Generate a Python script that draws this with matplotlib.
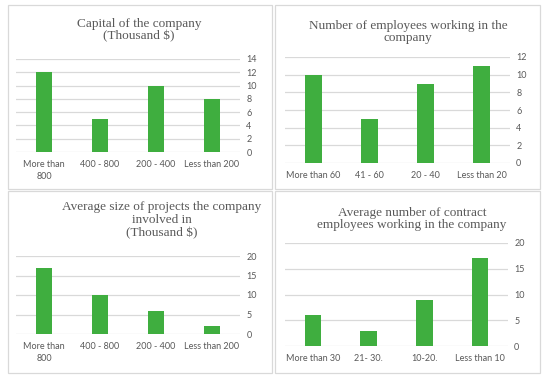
import matplotlib
matplotlib.use('Agg')
from matplotlib import pyplot as plt
from matplotlib.patches import Rectangle

# values
capital_cats = ['More than\n800', '400 - 800', '200 - 400', 'Less than 200']
capital_vals = [12, 5, 10, 8]

employee_cats = ['More than 60', '41 - 60', '20 - 40', 'Less than 20']
employee_vals = [10, 5, 9, 11]

project_cats = ['More than\n800', '400 - 800', '200 - 400', 'Less than 200']
project_vals = [17, 10, 6, 2]

contract_cats = ['More than 30', '21- 30.', '10-20.', 'Less than 10']
contract_vals = [6, 3, 9, 17]

W, H = 550, 382
BAR_COLOR = '#3fae3f'
GRID_COLOR = '#d9d9d9'
TEXT_COLOR = '#595959'
TITLE_COLOR = '#595959'


def px_axes(fig, x0, y0, x1, y1):
    # pixel box (top-left origin) -> figure fraction
    return fig.add_axes([x0 / W, 1 - y1 / H, (x1 - x0) / W, (y1 - y0) / H])


def draw_panel(fig, box, cats, vals, ymax, ystep, title, title_xy):
    ax = px_axes(fig, *box)
    x = list(range(len(cats)))
    ax.bar(x, vals, width=0.3, color=BAR_COLOR, zorder=3)
    ax.set_xlim(-0.5, len(cats) - 0.5)
    ax.set_ylim(0, ymax)
    ax.set_yticks(range(0, ymax + 1, ystep))
    ax.yaxis.tick_right()
    ax.grid(axis='y', color=GRID_COLOR, linewidth=0.9, zorder=0)
    ax.set_axisbelow(True)
    for s in ax.spines.values():
        s.set_visible(False)
    ax.tick_params(axis='both', length=0, colors=TEXT_COLOR, labelsize=6.5)
    ax.tick_params(axis='y', pad=4.5)
    ax.tick_params(axis='x', pad=6)
    ax.set_xticks(x)
    ax.set_xticklabels(cats, linespacing=1.35, multialignment='center')
    for lbl in ax.get_xticklabels() + ax.get_yticklabels():
        lbl.set_fontfamily('Lato')
    fig.text(title_xy[0] / W, 1 - title_xy[1] / H, title, ha='center',
             va='center', multialignment='center', fontsize=9.5,
             family='Liberation Serif', color=TITLE_COLOR, linespacing=1.08)
    return ax


fig = plt.figure(figsize=(W / 100, H / 100), dpi=100)

# panel borders
for (x0, y0, x1, y1) in [(8, 5, 272, 189), (275, 5, 540, 189),
                         (8, 191, 272, 373), (275, 191, 540, 373)]:
    fig.patches.append(Rectangle((x0 / W, 1 - y1 / H), (x1 - x0) / W,
                                 (y1 - y0) / H, transform=fig.transFigure,
                                 fill=False, edgecolor=GRID_COLOR,
                                 linewidth=0.9))

draw_panel(fig, (16, 59, 240, 152), capital_cats, capital_vals, 14, 2,
           'Capital of the company\n(Thousand $)', (139, 30))
draw_panel(fig, (285, 57, 510, 163), employee_cats, employee_vals, 12, 2,
           'Number of employees working in the\ncompany', (408, 32))
draw_panel(fig, (16, 256, 240, 334), project_cats, project_vals, 20, 5,
           'Average size of projects the company\ninvolved in\n(Thousand $)',
           (162, 220))
draw_panel(fig, (285, 243, 508, 346), contract_cats, contract_vals, 20, 5,
           'Average number of contract\nemployees working in the company',
           (412, 219))

fig.savefig('out.png', dpi=100)
